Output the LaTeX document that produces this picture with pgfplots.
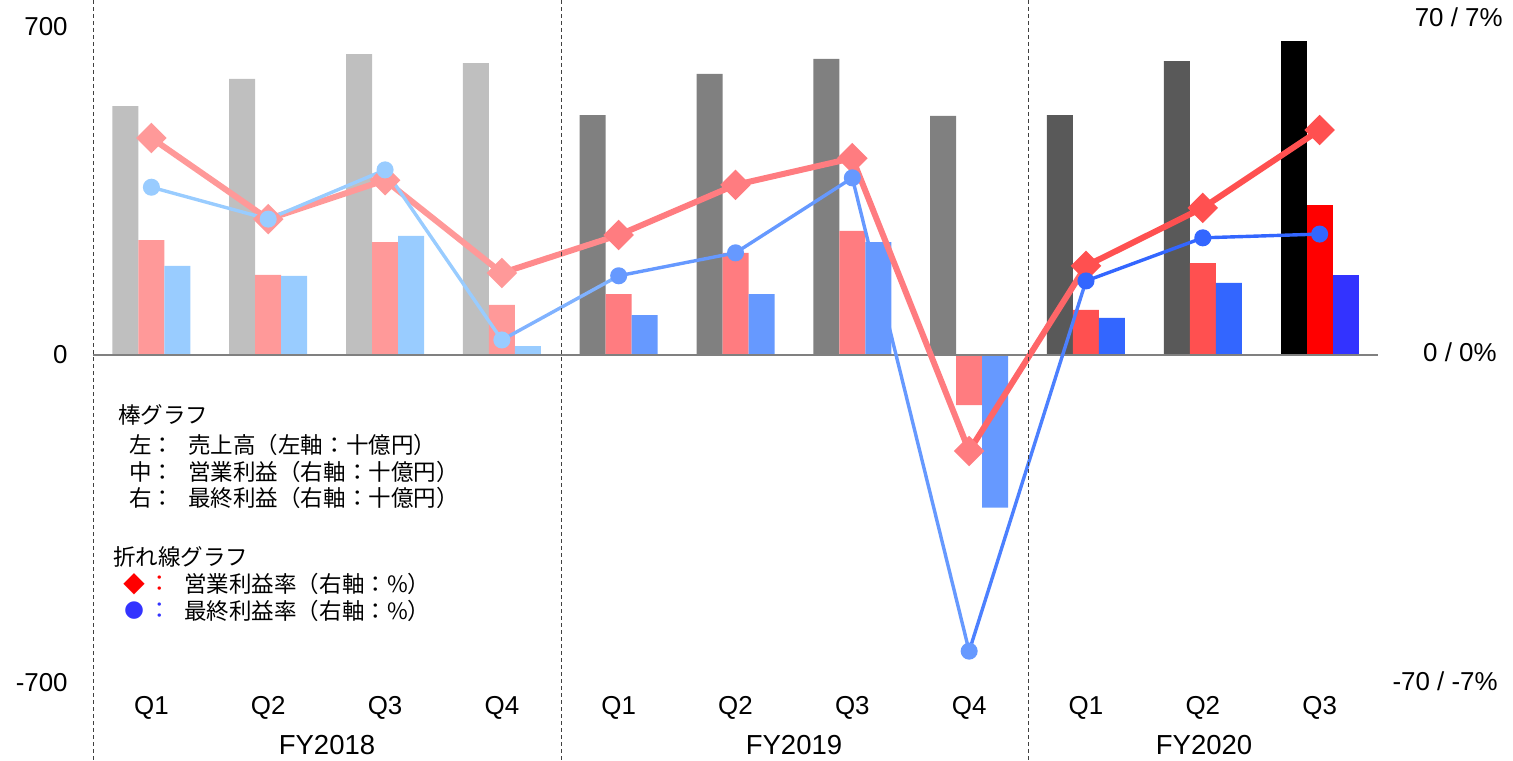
\documentclass[border=0pt]{standalone}
\usepackage{fontspec}
\setmainfont{Liberation Sans}
\newfontfamily\jp{Noto Sans CJK JP}
\newfontfamily\dv{DejaVu Sans}
\usepackage{pgfplots}
\pgfplotsset{compat=1.18}
\usepackage{pgfplotstable}

% bar colours per fiscal year
\definecolor{sA}{HTML}{BFBFBF}\definecolor{oA}{HTML}{FF9999}\definecolor{nA}{HTML}{99CCFF}
\definecolor{sB}{HTML}{808080}\definecolor{oB}{HTML}{FF7C80}\definecolor{nB}{HTML}{6699FF}
\definecolor{sC}{HTML}{595959}\definecolor{oC}{HTML}{FF5050}\definecolor{nC}{HTML}{3366FF}
\definecolor{sD}{HTML}{000000}\definecolor{oD}{HTML}{FF0000}\definecolor{nD}{HTML}{3333FF}
\colorlet{oAB}{oA!50!oB}\colorlet{nAB}{nA!50!nB}
\colorlet{oBC}{oB!50!oC}\colorlet{nBC}{nB!50!nC}
\definecolor{zl}{HTML}{808080}

% sales: left axis (10^9 yen); op, net: right axis (10^9 yen); opm, netm: %
\pgfplotstableread{
idx sales op    net   opm   netm
0   531   24.5  19.0  4.63  3.58
1   589   17.1  16.9  2.90  2.90
2   642   24.1  25.4  3.73  3.95
3   623   10.7   1.9  1.75  0.32
4   512   13.0   8.5  2.56  1.69
5   600   21.8  13.0  3.63  2.18
6   632   26.5  24.1  4.20  3.78
7   510  -10.7 -32.6 -2.05 -6.32
8   512    9.6   7.9  1.90  1.58
9   627   19.6  15.4  3.14  2.50
10  670   32.0  17.1  4.80  2.58
}\results

\pgfplotsset{
  salesbar/.style={ybar, bar width=13bp, bar shift=-13bp, draw=none, fill=#1},
  opbar/.style={ybar, bar width=13bp, bar shift=0bp, draw=none, fill=#1},
  netbar/.style={ybar, bar width=13bp, bar shift=13bp, draw=none, fill=#1},
  opline/.style={color=#1, line width=3bp, mark=square*, mark size=3.9bp,
    mark options={rotate=45, draw=none, fill=#1}},
  netline/.style={color=#1, line width=1.7bp, mark=*, mark size=3.4bp,
    mark options={draw=none, fill=#1}},
}

\begin{document}
\begin{tikzpicture}
\begin{axis}[
  name=ax,
  scale only axis, width=642.5bp, height=328bp,
  xmin=-0.5, xmax=10.5, ymin=-700, ymax=700,
  clip=false,
  axis line style={draw=none}, major tick length=0pt,
  xtick={0,...,10},
  xticklabels={Q1,Q2,Q3,Q4,Q1,Q2,Q3,Q4,Q1,Q2,Q3},
  ytick={-700,0,700}, yticklabels={-700,0,700},
  tick label style={font=\fontsize{13}{15}\selectfont},
  xticklabel style={anchor=center, yshift=-12.5bp},
  yticklabel style={anchor=east, inner sep=0pt, xshift=-12.5bp},
]
% bars
\addplot[salesbar=sA, restrict x to domain=0:3] table[x=idx, y=sales]{\results};
\addplot[opbar=oA, restrict x to domain=0:3] table[x=idx, y expr=\thisrow{op}*10]{\results};
\addplot[netbar=nA, restrict x to domain=0:3] table[x=idx, y expr=\thisrow{net}*10]{\results};
\addplot[salesbar=sB, restrict x to domain=4:7] table[x=idx, y=sales]{\results};
\addplot[opbar=oB, restrict x to domain=4:7] table[x=idx, y expr=\thisrow{op}*10]{\results};
\addplot[netbar=nB, restrict x to domain=4:7] table[x=idx, y expr=\thisrow{net}*10]{\results};
\addplot[salesbar=sC, restrict x to domain=8:9] table[x=idx, y=sales]{\results};
\addplot[opbar=oC, restrict x to domain=8:9] table[x=idx, y expr=\thisrow{op}*10]{\results};
\addplot[netbar=nC, restrict x to domain=8:9] table[x=idx, y expr=\thisrow{net}*10]{\results};
\addplot[salesbar=sD, restrict x to domain=10:10] table[x=idx, y=sales]{\results};
\addplot[opbar=oD, restrict x to domain=10:10] table[x=idx, y expr=\thisrow{op}*10]{\results};
\addplot[netbar=nD, restrict x to domain=10:10] table[x=idx, y expr=\thisrow{net}*10]{\results};
% zero line
\draw[zl, line width=1bp] (axis cs:-0.5,0) -- (axis cs:10.5,0);
% operating margin
\addplot[color=oAB, line width=3bp, no marks, restrict x to domain=3:4] table[x=idx, y expr=\thisrow{opm}*100]{\results};
\addplot[color=oBC, line width=3bp, no marks, restrict x to domain=7:8] table[x=idx, y expr=\thisrow{opm}*100]{\results};
\addplot[opline=oA, restrict x to domain=0:3] table[x=idx, y expr=\thisrow{opm}*100]{\results};
\addplot[opline=oB, restrict x to domain=4:7] table[x=idx, y expr=\thisrow{opm}*100]{\results};
\addplot[opline=oC, restrict x to domain=8:10] table[x=idx, y expr=\thisrow{opm}*100]{\results};
% net margin
\addplot[color=nAB, line width=1.7bp, no marks, restrict x to domain=3:4] table[x=idx, y expr=\thisrow{netm}*100]{\results};
\addplot[color=nBC, line width=1.7bp, no marks, restrict x to domain=7:8] table[x=idx, y expr=\thisrow{netm}*100]{\results};
\addplot[netline=nA, restrict x to domain=0:3] table[x=idx, y expr=\thisrow{netm}*100]{\results};
\addplot[netline=nB, restrict x to domain=4:7] table[x=idx, y expr=\thisrow{netm}*100]{\results};
\addplot[netline=nC, restrict x to domain=8:10] table[x=idx, y expr=\thisrow{netm}*100]{\results};
\end{axis}

% annotations, in pixel units of the reference
\begin{scope}[x=0.5bp, y=-0.5bp, shift={(ax.south west)}, shift={(-93,-683)}]
\path[use as bounding box] (0,0) rectangle (1513,760);
\foreach \xx in {93,561,1028}
  \draw[black!75, line width=0.5bp, dash pattern=on 2bp off 1.5bp] (\xx,0) -- (\xx,760);
\begin{scope}[every node/.style={inner sep=0pt, font=\fontsize{13}{15}\selectfont}]
\node[anchor=east] at (1503,17) {70 / 7\%};
\node[anchor=east] at (1497,352) {0 / 0\%};
\node[anchor=east] at (1498,681) {-70 / -7\%};
\end{scope}
\begin{scope}[every node/.style={inner sep=0pt, font=\fontsize{13.8}{16}\selectfont}]
\node at (327,745) {FY2018};
\node at (794,745) {FY2019};
\node at (1204,745) {FY2020};
\end{scope}
\begin{scope}[every node/.style={inner sep=0pt, anchor=west, font=\jp\fontsize{11.3}{13}\selectfont}]
\node at (118,415) {棒グラフ};
\node at (129,445) {左：};
\node at (188,445) {売上高（左軸：十億円）};
\node at (129,472) {中：};
\node at (188,472) {営業利益（右軸：十億円）};
\node at (129,498) {右：};
\node at (188,498) {最終利益（右軸：十億円）};
\node at (113,557) {折れ線グラフ};
\node at (184,584) {営業利益率（右軸：\%）};
\node at (184,611) {最終利益率（右軸：\%）};
\node[anchor=center, text=red] at (160,584) {：};
\node[anchor=center, text=nD] at (160,611) {：};
\node[anchor=center, text=red, font=\dv\fontsize{14}{14}\selectfont] at (134,584) {◆};
\node[anchor=center, text=nD, font=\dv\fontsize{11.5}{12}\selectfont] at (134,611) {●};
\end{scope}
\end{scope}
\end{tikzpicture}
\end{document}
